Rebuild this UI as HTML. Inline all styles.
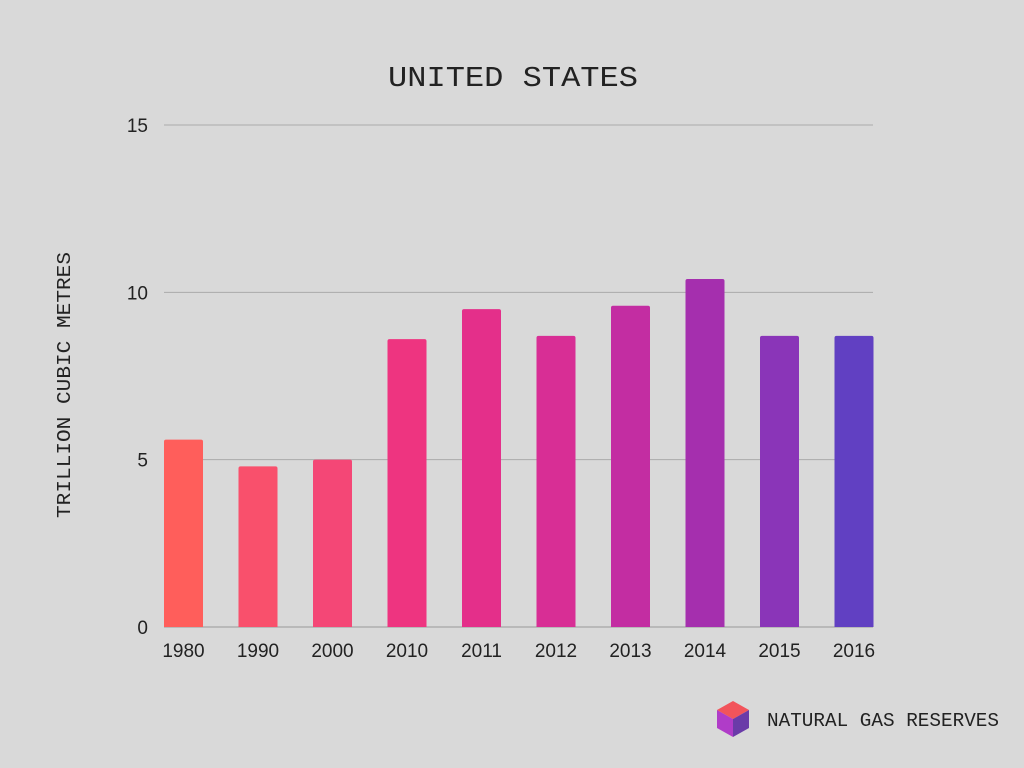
<!DOCTYPE html>
<html><head><meta charset="utf-8"><style>
html,body{margin:0;padding:0;background:#d9d9d9;}
svg{display:block;}
</style></head><body>
<svg id="chart" width="1024" height="768" viewBox="0 0 1024 768" xmlns="http://www.w3.org/2000/svg">
<rect width="1024" height="768" fill="#d9d9d9"/>
<text x="513" y="86" text-anchor="middle" font-family="Liberation Mono, monospace" font-size="29" fill="#222" textLength="250" lengthAdjust="spacingAndGlyphs">UNITED STATES</text>
<text transform="translate(70,385) rotate(-90)" text-anchor="middle" font-family="Liberation Mono, monospace" font-size="19" fill="#222" textLength="266" lengthAdjust="spacingAndGlyphs">TRILLION CUBIC METRES</text>
<g id="grid"></g>
<g id="bars"></g>
<g id="xlabels"></g>
<g>
<polygon points="733,701 749,710 733,719 717,710" fill="#f2545b"/>
<polygon points="717,710 733,719 733,737 717,728" fill="#b03cc8"/>
<polygon points="749,710 733,719 733,737 749,728" fill="#6a3ba8"/>
<text x="767" y="726" font-family="Liberation Mono, monospace" font-size="19" fill="#222" textLength="232" lengthAdjust="spacingAndGlyphs">NATURAL GAS RESERVES</text>
</g>
</svg>
<script>
const categories = ["1980","1990","2000","2010","2011","2012","2013","2014","2015","2016"];
const values = [5.6,4.8,5.0,8.6,9.5,8.7,9.6,10.4,8.7,8.7];
const colors = ["#ff5e5b","#f9506c","#f44776","#ee3480","#e42f8a","#d82e95","#c32da2","#a52fae","#8a35b8","#6140c2"];
const yTicks = [0,5,10,15];
const NS="http://www.w3.org/2000/svg";
const y0=627, yTop=125, yMax=15;
const y = v => y0 - v/yMax*(y0-yTop);
const x = i => 164 + i*74.5;
const bw = 39;
const grid=document.getElementById('grid'), bars=document.getElementById('bars'), xl=document.getElementById('xlabels');
yTicks.forEach(t=>{
  const l=document.createElementNS(NS,'line');
  
  
  l.setAttribute('x1',164);l.setAttribute('x2',873);l.setAttribute('y1',y(t));l.setAttribute('y2',y(t));
  l.setAttribute('stroke',t===0?'#999':'#aaa');l.setAttribute('stroke-width',1);
  grid.appendChild(l);
  const tx=document.createElementNS(NS,'text');
  
  
  tx.setAttribute('x',148);tx.setAttribute('y',y(t)+7);tx.setAttribute('text-anchor','end');
  tx.setAttribute('font-family','Liberation Sans, sans-serif');tx.setAttribute('font-size','19');tx.setAttribute('fill','#222');
  tx.textContent=t;grid.appendChild(tx);
});
categories.forEach((c,i)=>{
  const r=document.createElementNS(NS,'path');
  
  
  const xl0=x(i), yt=y(values[i]), rr=2;
  r.setAttribute('d',`M${xl0},${y0} V${yt+rr} Q${xl0},${yt} ${xl0+rr},${yt} H${xl0+bw-rr} Q${xl0+bw},${yt} ${xl0+bw},${yt+rr} V${y0} Z`);
  r.setAttribute('fill',colors[i]);
  bars.appendChild(r);
  const t=document.createElementNS(NS,'text');
  
  
  t.setAttribute('x',xl0+bw/2);t.setAttribute('y',657);t.setAttribute('text-anchor','middle');
  t.setAttribute('font-family','Liberation Sans, sans-serif');t.setAttribute('font-size','19');t.setAttribute('fill','#222');
  t.textContent=c;xl.appendChild(t);
});
</script>
</body></html>
